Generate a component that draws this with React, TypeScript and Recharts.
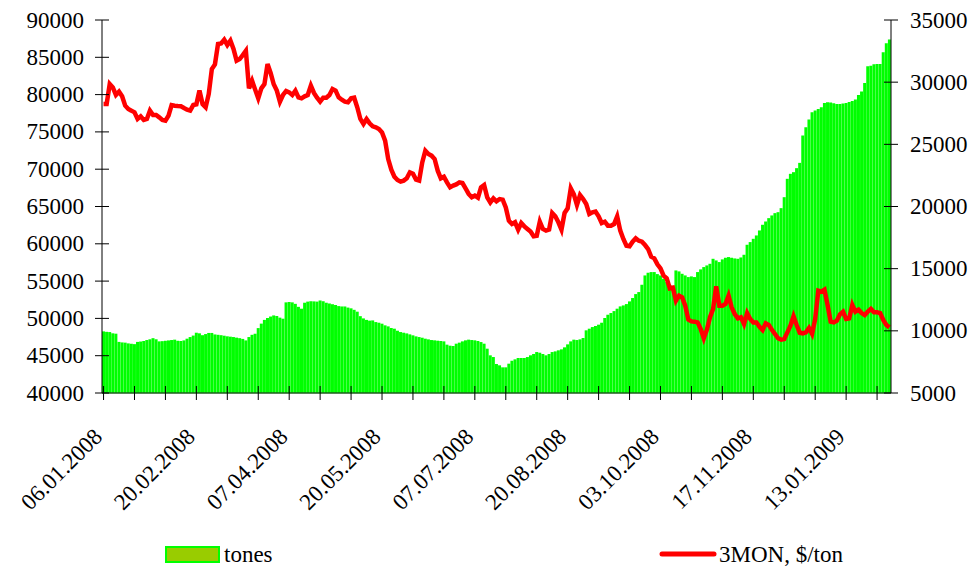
import { Bar, ComposedChart, Legend, Line, XAxis, YAxis } from "recharts"

// подписи дат (каждый 30-й торговый день)
const dateLabels = [
    "06.01.2008", "20.02.2008", "07.04.2008", "20.05.2008", "07.07.2008",
    "20.08.2008", "03.10.2008", "17.11.2008", "13.01.2009",
]

// запасы, тонны
const tones = [
    48260, 48200, 48170, 48000, 47950, 46850, 46780, 46750, 46650, 46600,
    46550, 46850, 46900, 46970, 47100, 47200, 47350, 47200, 46920, 46950,
    47000, 47050, 47100, 47150, 47000, 46970, 47050, 47280, 47500, 47700,
    48080, 48000, 47750, 47900, 48050, 48050, 47850, 47800, 47750, 47680,
    47600, 47550, 47500, 47420, 47350, 47250, 47050, 47500, 47800, 47950,
    48700, 49300, 49800, 50050, 50250, 50400, 50320, 50100, 49960, 52150,
    52200, 52150, 51950, 51550, 51300, 52100, 52250, 52300, 52280, 52250,
    52400, 52300, 52100, 52000, 51900, 51800, 51650, 51600, 51600, 51450,
    51350, 51150, 50900, 50300, 50000, 49800, 49700, 49730, 49510, 49420,
    49290, 49070, 48930, 48710, 48620, 48350, 48170, 48080, 47990, 47860,
    47730, 47590, 47500, 47410, 47280, 47190, 47100, 47060, 47010, 46970,
    46920, 46480, 46340, 46300, 46610, 46750, 46920, 47060, 47150, 47100,
    47060, 46970, 46830, 46610, 45940, 45050, 44820, 43890, 43710, 43440,
    43440, 43930, 44330, 44510, 44690, 44690, 44690, 44820, 45050, 45230,
    45490, 45400, 45230, 45050, 45230, 45490, 45580, 45720, 45850, 46120,
    46520, 46920, 47150, 47100, 47190, 47370, 48400, 48620, 48840, 48980,
    49160, 49420, 50050, 50490, 50720, 50980, 51300, 51610, 51740, 51920,
    52280, 52730, 53260, 53530, 54510, 55760, 56120, 56210, 56210, 55940,
    55760, 55320, 54870, 54510, 54150, 56430, 56300, 55980, 55760, 55540,
    55630, 55540, 56210, 56570, 56880, 57100, 57320, 57990, 57770, 57550,
    57910, 58130, 58220, 58130, 58040, 57990, 58170, 58530, 59870, 60230,
    60670, 61120, 61790, 62550, 62990, 63440, 63800, 64110, 64240, 64780,
    66250, 68710, 69380, 69600, 70140, 70850, 74510, 75630, 76650, 77640,
    77860, 78080, 78300, 78880, 78980, 78930, 78840, 78750, 78750, 78800,
    78880, 79020, 79150, 79330, 79960, 80400, 81560, 83800, 83880, 84060,
    84110, 84110, 85670, 86880, 87370,
]

// цена 3MON, $/ton
const price = [
    28240, 28240, 29850, 29580, 28970, 29240, 28860, 28110, 27840, 27710,
    27570, 27040, 27250, 26960, 27040, 27710, 27360, 27360, 27170, 26960,
    26900, 27310, 28160, 28110, 28080, 28060, 27920, 27790, 27710, 28160,
    28220, 29320, 28240, 27980, 29050, 31060, 31430, 33070, 33120, 33420,
    32990, 33340, 32670, 31730, 31860, 32180, 32530, 29500, 30120, 29400,
    28700, 29500, 29850, 31460, 30740, 29830, 29320, 28430, 28970, 29290,
    29180, 28970, 29320, 28780, 28700, 28860, 28970, 29720, 29130, 28750,
    28430, 28750, 28750, 28970, 29450, 29320, 28780, 28590, 28430, 28380,
    28700, 28750, 27980, 27040, 26640, 27040, 26690, 26450, 26370, 26230,
    25960, 25300, 23820, 22960, 22400, 22130, 22000, 22080, 22270, 22750,
    22640, 22160, 22080, 23550, 24490, 24220, 24090, 23820, 22880, 22270,
    22400, 21940, 21540, 21680, 21780, 21940, 21890, 21460, 21010, 20740,
    20870, 20710, 21540, 21730, 20740, 20330, 20660, 20420, 20600, 20550,
    19930, 18860, 18590, 18730, 18140, 18670, 18400, 18190, 17980, 17600,
    17650, 18780, 18190, 18060, 18140, 19480, 19210, 18730, 18140, 19480,
    19850, 21460, 20980, 20120, 20920, 20600, 20200, 19400, 19530, 19590,
    19210, 18670, 18780, 18460, 18460, 18590, 19210, 18060, 17390, 16850,
    16800, 17170, 17440, 17250, 17170, 16900, 16580, 15960, 15830, 15350,
    15030, 14440, 14220, 13420, 13470, 12430, 12830, 12690, 12020, 10900,
    10760, 10740, 10680, 10150, 9400, 10090, 11090, 11760, 13580, 12020,
    12020, 12160, 12830, 11890, 11350, 11000, 11090, 10550, 11430, 10950,
    10680, 10680, 10330, 10070, 10600, 10470, 10090, 9740, 9400, 9290,
    9340, 9880, 10420, 11170, 10470, 9850, 9800, 9880, 10230, 9750,
    10950, 13230, 13150, 13310, 12080, 10740, 10680, 10820, 11330, 11540,
    10950, 11000, 12080, 11540, 11700, 11430, 11270, 11540, 11760, 11490,
    11490, 11430, 10870, 10470, 10280,
]

const leftTicks = [40000, 45000, 50000, 55000, 60000, 65000, 70000, 75000, 80000, 85000, 90000]
const rightTicks = [5000, 10000, 15000, 20000, 25000, 30000, 35000]

const data = tones.map((t, i) => ({ day: i, tones: t, price: price[i] }))

const textStyle = { fontFamily: '"Liberation Serif", "DejaVu Serif", serif', fontSize: 23 }

function DayTick(props: any) {
    const { x, y, payload } = props
    const i = payload.value
    const ty = y + 45
    return (
        <g>
            <line x1={x} x2={x} y1={y - 7} y2={y + 7} stroke="#000" />
            {i % 30 === 0 && (
                <text x={x} y={ty} transform={`rotate(-45 ${x} ${ty})`} textAnchor="end" fill="#000" style={textStyle}>
                    {dateLabels[i / 30]}
                </text>
            )}
        </g>
    )
}

function LeftTick(props: any) {
    const { x, y, payload } = props
    return (
        <g>
            <line x1={x - 7} x2={x + 7} y1={y} y2={y} stroke="#000" />
            <text x={x - 18} y={y} dy={7.5} textAnchor="end" fill="#000" style={textStyle}>
                {payload.value}
            </text>
        </g>
    )
}

function RightTick(props: any) {
    const { x, y, payload } = props
    return (
        <g>
            <line x1={x - 7} x2={x + 7} y1={y} y2={y} stroke="#000" />
            <text x={x + 19} y={y} dy={7.5} textAnchor="start" fill="#000" style={textStyle}>
                {payload.value}
            </text>
        </g>
    )
}

function LegendBox() {
    return (
        <svg width={973} height={40} style={{ overflow: "visible", display: "block" }}>
            <rect x={166} y={20} width={53} height={15} fill="#99cc00" stroke="#00ff00" strokeWidth={2} />
            <text x={224} y={35} fill="#000" style={textStyle}>tones</text>
            <line x1={662} x2={714} y1={27} y2={27} stroke="#ff0000" strokeWidth={5} strokeLinecap="round" />
            <text x={719} y={35} fill="#000" style={textStyle}>3MON, $/ton</text>
        </svg>
    )
}

export default function App() {
    return (
        <div style={{ position: "absolute", left: 0, top: 0, fontFamily: '"Liberation Serif", serif' }}>
            <ComposedChart
                width={973}
                height={567}
                data={data}
                barCategoryGap={0}
                barGap={0}
                margin={{ top: 20, right: 0, left: 0, bottom: 0 }}
            >
                <XAxis
                    dataKey="day"
                    interval={9}
                    height={174}
                    tickSize={0}
                    tickMargin={0}
                    tickLine={false}
                    tick={<DayTick />}
                    axisLine={{ stroke: "#1e5e1e", strokeWidth: 1.5 }}
                />
                <YAxis
                    yAxisId="left"
                    orientation="left"
                    width={102}
                    domain={[40000, 90000]}
                    ticks={leftTicks}
                    allowDataOverflow
                    tickSize={0}
                    tickMargin={0}
                    tickLine={false}
                    tick={<LeftTick />}
                    axisLine={{ stroke: "#000" }}
                />
                <YAxis
                    yAxisId="right"
                    orientation="right"
                    width={82}
                    domain={[5000, 35000]}
                    ticks={rightTicks}
                    allowDataOverflow
                    tickSize={0}
                    tickMargin={0}
                    tickLine={false}
                    tick={<RightTick />}
                    axisLine={{ stroke: "#000" }}
                />
                <Legend
                    layout="horizontal"
                    verticalAlign="middle"
                    align="center"
                    content={<LegendBox />}
                    wrapperStyle={{ top: 527, left: 0, width: 973, height: 40 }}
                />
                <Bar yAxisId="left" dataKey="tones" name="tones" fill="#00ff00" isAnimationActive={false} />
                <Line
                    yAxisId="right"
                    type="linear"
                    dataKey="price"
                    name="3MON, $/ton"
                    stroke="#ff0000"
                    strokeWidth={4.5}
                    dot={false}
                    activeDot={false}
                    isAnimationActive={false}
                />
            </ComposedChart>
        </div>
    )
}
